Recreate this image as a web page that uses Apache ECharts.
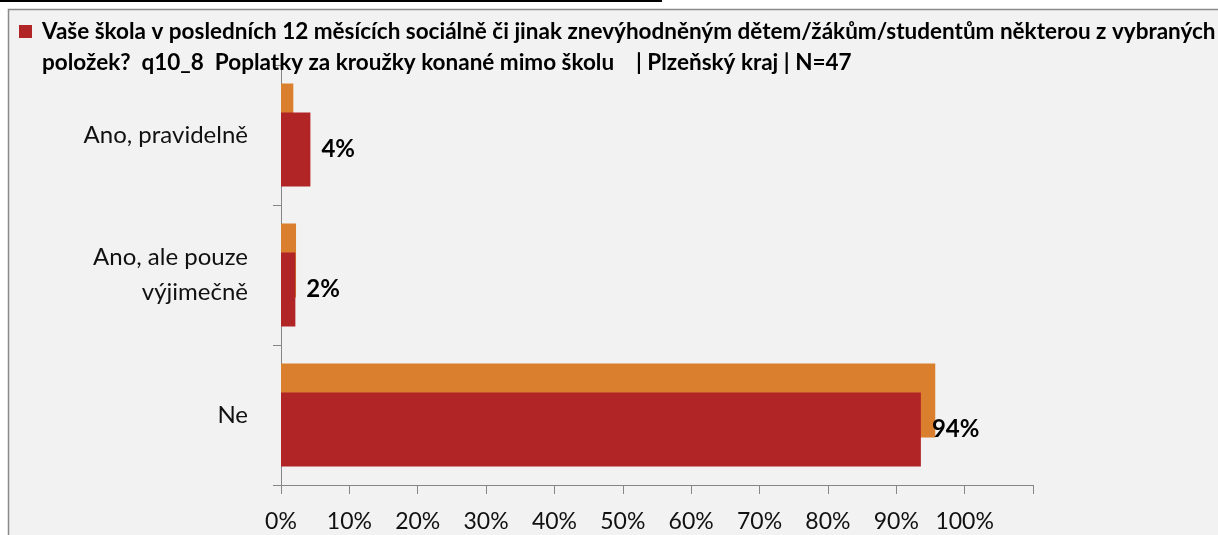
<!DOCTYPE html>
<html>
<head>
    <meta charset="utf-8">
    <title>q10_8</title>
    <script src="https://cdn.jsdelivr.net/npm/echarts@6/dist/echarts.min.js"></script>
    <style>
        html, body { margin: 0; padding: 0; background: #fff; }
    </style>
</head>
<body>
    <div id="main" style="width: 1218px;height:535px;"></div>
<script type="text/javascript">
    // categories and values (percent)
    var categories = ['Ano, pravidelně', 'Ano, ale pouze\nvýjimečně', 'Ne'];
    var compareValues = [1.8, 2.2, 95.7];   // orange series (no legend)
    var regionValues = [4.3, 2.1, 93.6];    // Plzeňský kraj
    var valueLabels = ['4%', '2%', '94%'];
    var xTicks = ['0%', '10%', '20%', '30%', '40%', '50%', '60%', '70%', '80%', '90%', '100%', ''];

    var titleText = 'Vaše škola v posledních 12 měsících sociálně či jinak znevýhodněným dětem/žákům/studentům některou z vybraných\n' +
        'položek?  q10_8  Poplatky za kroužky konané mimo školu    | Plzeňský kraj | N=47';

    var font = 'Lato, "Open Sans", sans-serif';
    var axisGrey = '#868686';

    var myChart = echarts.init(document.getElementById('main'));

    var option = {
        backgroundColor: '#ffffff',
        animation: false,
        graphic: [
            {
                type: 'rect',
                shape: { x: 8.5, y: 9.5, width: 1230, height: 540 },
                style: { fill: '#f2f2f2', stroke: '#8a8a8a', lineWidth: 1.5 },
                z: -10
            },
            {
                type: 'rect',
                shape: { x: 0, y: 0, width: 662, height: 2 },
                style: { fill: '#000' },
                z: -10
            }
        ],
        title: {
            text: titleText,
            left: 37,
            top: 11,
            textStyle: {
                fontFamily: font,
                fontSize: 22.5,
                fontWeight: 'bold',
                color: '#000',
                lineHeight: 31
            }
        },
        legend: {
            left: 14,
            top: 20,
            itemWidth: 13,
            itemHeight: 13,
            icon: 'rect',
            data: ['Plzeňský kraj'],
            formatter: function () { return ''; }
        },
        grid: {
            left: 281,
            right: 185,
            top: 65,
            bottom: 50,
            containLabel: false
        },
        xAxis: {
            type: 'value',
            min: 0,
            max: 110,
            interval: 10,
            axisLine: { show: true, lineStyle: { color: axisGrey, width: 1 } },
            axisTick: { show: true, length: 9, lineStyle: { color: axisGrey } },
            splitLine: { show: false },
            axisLabel: {
                margin: 25,
                fontFamily: font,
                fontSize: 23,
                color: '#111',
                formatter: function (v) { return xTicks[Math.round(v / 10)]; }
            }
        },
        yAxis: {
            type: 'category',
            inverse: true,
            data: categories,
            axisLine: { show: true, lineStyle: { color: axisGrey, width: 1 } },
            axisTick: { show: true, length: 8, lineStyle: { color: axisGrey } },
            axisLabel: {
                margin: 33,
                fontFamily: font,
                fontSize: 24,
                color: '#111',
                lineHeight: 35
            }
        },
        series: [
            {
                name: 'Srovnání',
                type: 'bar',
                data: compareValues,
                barWidth: 74,
                barGap: '-61%',
                itemStyle: { color: '#d97f2e' },
                z: 2
            },
            {
                name: 'Plzeňský kraj',
                type: 'bar',
                data: regionValues,
                barWidth: 74,
                barGap: '-61%',
                itemStyle: { color: '#b22527' },
                z: 3,
                label: {
                    show: true,
                    position: 'right',
                    distance: 11,
                    fontFamily: font,
                    fontSize: 24,
                    fontWeight: 'bold',
                    color: '#000',
                    formatter: function (p) { return valueLabels[p.dataIndex]; }
                }
            }
        ]
    };

    myChart.setOption(option, true);
</script>
</body>
</html>
